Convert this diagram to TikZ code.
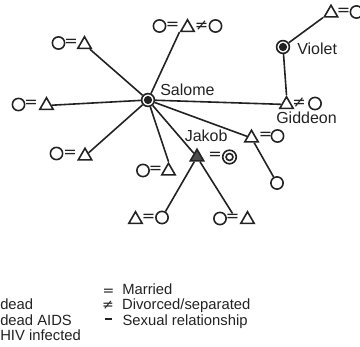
\documentclass[tikz,border=0pt]{standalone}
\usepackage{fontspec}
\setmainfont{Liberation Sans}
\newfontfamily\symf{DejaVu Sans}
\usetikzlibrary{shapes.geometric}
\definecolor{ink}{HTML}{222222}
\begin{document}
\begin{tikzpicture}[x=0.75pt,y=-0.75pt,
 circ/.style={circle,draw=ink,fill=white,line width=1.2pt,minimum size=9.2pt,inner sep=0pt},
 ring/.style={circ,minimum size=9.6pt,path picture={\fill[ink] (path picture bounding box.center) circle (3.1pt);}},
 dring/.style={circle,draw=ink,fill=white,line width=1.2pt,minimum size=10.2pt,inner sep=0pt,
   path picture={\draw[ink,line width=1.2pt] (path picture bounding box.center) circle (2.6pt);}},
 tri/.style={regular polygon,regular polygon sides=3,draw=ink,fill=white,line width=1.2pt,minimum size=11.6pt,inner sep=0pt},
 trif/.style={tri,fill=black!70},
 rel/.style={font=\symf\fontsize{12}{13}\selectfont,inner sep=0.5pt,text=ink},
 lab/.style={font=\fontsize{12}{14}\selectfont,inner sep=0pt,anchor=base west,text=ink},
 leg/.style={font=\fontsize{11.1}{13}\selectfont,inner sep=0pt,anchor=base west,text=ink},
 link/.style={draw=ink,line width=1.2pt}]
\useasboundingbox (0,0) rectangle (360,346);

\node[ring] (S) at (148,100) {};
\node[lab] (Slab) at (160,95) {Salome};

\node[circ] (a1) at (159.5,26) {};
\node[rel] (aeq) at (172.5,25.5) {=};
\node[tri] (a2) at (187.5,27.5) {};
\node[rel] (ane) at (201.5,25.5) {≠};
\node[circ] (a3) at (215.5,26) {};

\node[circ] (b1) at (58.5,43) {};
\node[rel] (beq) at (71,42.5) {=};
\node[tri] (b2) at (84.5,44.5) {};

\node[circ] (c1) at (18.5,104.5) {};
\node[rel] (ceq) at (31,103.5) {=};
\node[tri] (c2) at (46.5,105.5) {};

\node[circ] (d1) at (56.5,153.5) {};
\node[rel] (deq) at (70,153.5) {=};
\node[tri] (d2) at (85,156) {};

\node[circ] (e1) at (143,170.5) {};
\node[rel] (eeq) at (155.5,169.5) {=};
\node[tri] (e2) at (168.5,171) {};

\node[trif] (J) at (197,157) {};
\node[rel] (Jeq) at (215,155.5) {=};
\node[dring] (Jw) at (229.5,157) {};
\node[lab] (Jlab) at (184.5,141.5) {Jakob};

\node[tri] (f1) at (135.5,219.5) {};
\node[rel] (feq) at (148.5,217.5) {=};
\node[circ] (f2) at (162,217.5) {};

\node[circ] (g1) at (220,218.5) {};
\node[rel] (geq) at (232.5,218) {=};
\node[tri] (g2) at (247.5,219.5) {};

\node[tri] (h1) at (251.5,138) {};
\node[rel] (heq) at (265.5,136) {=};
\node[circ] (h2) at (277.5,136) {};
\node[circ] (i) at (277,183) {};

\node[tri] (G) at (286.5,104.5) {};
\node[rel] (Gne) at (299,103) {≠};
\node[circ] (G2) at (315,103.5) {};
\node[lab] (Glab) at (276,123) {Giddeon};

\node[ring] (V) at (283,47) {};
\node[lab] (Vlab) at (297,55) {Violet};

\node[tri] (k1) at (331,13) {};
\node[rel] (keq) at (343.5,12) {=};
\node[circ] (k2) at (356.5,12) {};

% connectors
\draw[link] (S) -- (b2);
\draw[link] (S) -- (c2);
\draw[link] (S) -- (d2);
\draw[link] (S) -- (e2.corner 1);
\draw[link] (S) -- (a2.corner 2);
\draw[link] (S) -- (G);
\draw[link] (S) -- (h1);
\draw[link] (S) -- (J);
\draw[link] (J) -- (f2);
\draw[link] (J) -- (geq.north);
\draw[link] (h1) -- (i);
\draw[link] (V) -- (G.corner 1);
\draw[link] (V) -- (k1.corner 2);

% legend
\node[rel,font=\symf\fontsize{10.5}{12}\selectfont] (Leq) at (108.5,292) {=};
\node[rel,font=\symf\fontsize{10.5}{12}\selectfont] (Lne) at (108,305) {≠};
\coordinate (Lsa) at (104.5,319);
\coordinate (Lsb) at (112,319);
\draw[link,line width=1.1pt] (Lsa) -- (Lsb);
\node[leg] (Lm) at (122,294) {Married};
\node[leg] (Ld) at (121.8,309.5) {Divorced/separated};
\node[leg] (Ls) at (122.3,325) {Sexual relationship};
\node[leg] (Ldd) at (0,309) {dead};
\node[leg] (Lda) at (0,325) {dead AIDS};
\node[leg] (Lhiv) at (0,340) {HIV infected};
\end{tikzpicture}
\end{document}
